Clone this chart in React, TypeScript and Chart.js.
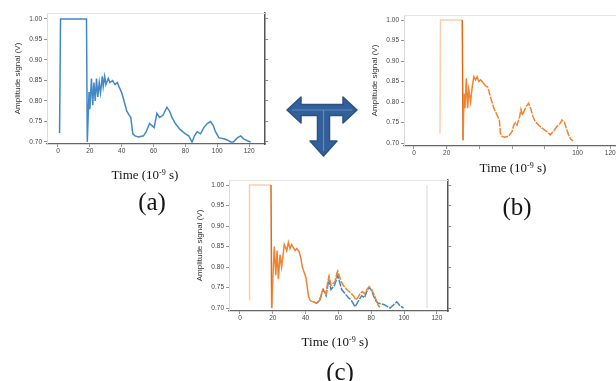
import React, { useEffect, useRef } from 'react';
import { Chart, registerables } from 'chart.js';

Chart.register(...registerables);

// ---------- data ----------
const xTickValues = [0, 20, 40, 60, 80, 100, 120];
const yTickValues = [0.7, 0.75, 0.8, 0.85, 0.9, 0.95, 1.0];
const yTitle = 'Amplitude signal (V)';

// (a) blue signal
const aTime = [1.0, 1.6, 17.9, 18.4, 19.5, 20.0, 21.0, 21.8, 22.6, 23.4, 24.2, 25.0, 25.9, 26.7, 27.8, 28.4, 29.3, 30.1, 31.6, 32.6, 34.3, 35.8, 37.3, 38.3, 40.0, 41.5, 43.2, 44.8, 45.7, 47.0, 48.4, 50.5, 53.7, 55.4, 57.5, 59.0, 60.4, 62.1, 63.8, 65.9, 68.4, 70.1, 71.6, 73.7, 76.8, 80.0, 82.1, 84.2, 85.7, 87.4, 89.5, 91.6, 93.7, 95.8, 97.5, 98.9, 101.1, 104.2, 106.3, 108.4, 110.1, 112.6, 114.7, 116.8, 118.9, 121.0];
const aAmp = [0.722, 1.0, 1.0, 0.7, 0.822, 0.78, 0.855, 0.79, 0.845, 0.8, 0.855, 0.81, 0.845, 0.82, 0.86, 0.835, 0.86, 0.84, 0.855, 0.845, 0.85, 0.84, 0.845, 0.835, 0.82, 0.8, 0.775, 0.765, 0.76, 0.72, 0.715, 0.712, 0.715, 0.725, 0.745, 0.74, 0.735, 0.77, 0.76, 0.765, 0.785, 0.775, 0.76, 0.745, 0.73, 0.72, 0.715, 0.7, 0.715, 0.725, 0.72, 0.735, 0.745, 0.75, 0.74, 0.725, 0.71, 0.708, 0.705, 0.7, 0.7, 0.71, 0.715, 0.707, 0.703, 0.7];

// (b) orange signal
const bTime = [15.9, 16.2, 29.5, 30.0, 30.6, 31.2, 32.0, 32.8, 33.5, 34.6, 35.6, 36.6, 37.6, 38.6, 39.6, 40.7, 42.3, 43.7, 45.1, 46.7, 48.8, 50.8, 52.2, 52.8, 53.9, 55.3, 57.9, 60.0, 61.0, 62.0, 63.0, 64.6, 65.4, 66.3, 67.1, 68.7, 70.1, 71.5, 72.8, 74.2, 76.2, 78.3, 81.3, 83.3, 85.0, 86.0, 87.4, 89.4, 90.4, 91.9, 93.1, 94.5, 95.9, 97.2];
const bAmp = [0.724, 1.0, 1.0, 0.707, 0.82, 0.785, 0.858, 0.785, 0.83, 0.8, 0.837, 0.862, 0.854, 0.862, 0.85, 0.854, 0.847, 0.84, 0.836, 0.813, 0.785, 0.768, 0.756, 0.724, 0.716, 0.714, 0.717, 0.728, 0.744, 0.75, 0.744, 0.764, 0.782, 0.768, 0.776, 0.79, 0.797, 0.782, 0.764, 0.752, 0.744, 0.736, 0.728, 0.72, 0.728, 0.733, 0.74, 0.748, 0.756, 0.752, 0.736, 0.72, 0.709, 0.705];

// (c) orange + blue signals
const cOrangeTime = [5.5, 5.8, 18.9, 19.3, 20.0, 20.9, 21.8, 22.6, 23.4, 24.4, 25.4, 27.0, 28.5, 29.5, 30.5, 31.5, 33.6, 34.6, 36.0, 37.2, 38.0, 39.3, 40.1, 40.7, 41.7, 42.7, 44.7, 46.8, 48.4, 49.4, 50.4, 51.5, 52.5, 53.3, 54.3, 55.5, 56.9, 58.0, 59.0, 59.6, 60.4, 61.6, 63.0, 65.1, 67.1, 69.1, 70.6, 71.8, 73.2, 74.6, 75.9, 77.3, 78.7, 80.3, 82.0, 83.4, 84.4, 85.4];
const cOrangeAmp = [0.72, 1.0, 1.0, 0.7, 0.77, 0.85, 0.78, 0.84, 0.77, 0.83, 0.8, 0.855, 0.84, 0.86, 0.845, 0.855, 0.84, 0.845, 0.838, 0.82, 0.8, 0.785, 0.775, 0.76, 0.73, 0.718, 0.715, 0.712, 0.718, 0.73, 0.745, 0.74, 0.735, 0.76, 0.778, 0.755, 0.76, 0.765, 0.785, 0.79, 0.78, 0.765, 0.755, 0.745, 0.738, 0.73, 0.72, 0.725, 0.735, 0.74, 0.735, 0.745, 0.752, 0.745, 0.73, 0.715, 0.705, 0.702];
const cBlueTime = [44.7, 46.8, 48.8, 49.8, 50.8, 52.5, 54.1, 55.5, 57.6, 59.6, 60.6, 62.0, 64.1, 66.1, 67.7, 70.2, 71.2, 72.6, 74.2, 75.9, 77.3, 78.7, 79.9, 81.4, 82.4, 84.0, 86.4, 88.1, 90.1, 91.5, 94.2, 95.6, 97.6, 99.7];
const cBlueAmp = [0.715, 0.712, 0.72, 0.735, 0.745, 0.73, 0.77, 0.745, 0.755, 0.78, 0.765, 0.745, 0.735, 0.725, 0.72, 0.703, 0.71, 0.72, 0.73, 0.725, 0.74, 0.75, 0.745, 0.73, 0.72, 0.712, 0.71, 0.708, 0.703, 0.7, 0.71, 0.715, 0.705, 0.7];
const cMarkerTime = [114, 114];
const cMarkerAmp = [0.7, 1.0];

// ---------- styles ----------
const BLUE = 'rgb(66,136,198)';
const ORANGE = 'rgb(240,132,48)';
const ORANGE_LIGHT = 'rgba(244,168,110,0.55)';
const ORANGE_DARK = 'rgb(222,108,22)';
const DASH = [7, 1.2];

const zip = (xs: number[], ys: number[]) => xs.map((x, i) => ({ x, y: ys[i] }));

const frameTop = {
  id: 'frameTop',
  afterDraw(chart: any) {
    const { ctx, chartArea } = chart;
    ctx.save();
    ctx.strokeStyle = '#e4e4e4';
    ctx.lineWidth = 1;
    ctx.beginPath();
    ctx.moveTo(chartArea.left, chartArea.top + 0.5);
    ctx.lineTo(chartArea.right, chartArea.top + 0.5);
    ctx.stroke();
    ctx.restore();
  },
};

type Cfg = {
  datasets: any[];
  xMin: number; xMax: number; yMin: number; yMax: number;
  padTop: number; yWidth: number; xHeight: number; rightWidth: number;
  titlePad: number; showRight: boolean; hideX?: number[];
};

function makeConfig(c: Cfg): any {
  const tickFont = { family: '"Liberation Sans", Arial, sans-serif', size: 6.5 };
  const setX = (s: any) => { s.ticks = xTickValues.map((v) => ({ value: v })); };
  const setY = (s: any) => { s.ticks = yTickValues.map((v) => ({ value: v })); };
  const scales: any = {
    x: {
      type: 'linear', min: c.xMin, max: c.xMax,
      afterFit: (s: any) => { s.height = c.xHeight; },
      afterBuildTicks: setX,
      ticks: {
        font: tickFont, color: '#444', padding: 0, maxRotation: 0, autoSkip: false,
        callback: (v: any) => (c.hideX && c.hideX.includes(Number(v)) ? '' : String(v)),
      },
      grid: { drawOnChartArea: false, drawTicks: true, tickLength: 3, color: '#777', lineWidth: 0.8 },
      border: { display: true, color: '#666', width: 1.3 },
    },
    y: {
      type: 'linear', position: 'left', min: c.yMin, max: c.yMax,
      afterFit: (s: any) => { s.width = c.yWidth; },
      afterBuildTicks: setY,
      ticks: { font: tickFont, color: '#444', padding: 2, callback: (v: any) => Number(v).toFixed(2) },
      grid: { drawOnChartArea: false, drawTicks: true, tickLength: 3, color: '#777', lineWidth: 0.8 },
      border: { display: true, color: '#dcdcdc', width: 1 },
      title: {
        display: true, text: yTitle, color: '#333',
        font: { family: '"Liberation Sans", Arial, sans-serif', size: 8 },
        padding: { top: c.titlePad, bottom: 0 },
      },
    },
  };
  if (c.showRight) {
    scales.y2 = {
      type: 'linear', position: 'right', min: c.yMin, max: c.yMax,
      afterFit: (s: any) => { s.width = c.rightWidth; },
      afterBuildTicks: setY,
      ticks: { display: false },
      grid: { drawOnChartArea: false, drawTicks: true, tickLength: 3, color: '#666', lineWidth: 0.8 },
      border: { display: true, color: '#555', width: 1.5 },
    };
  }
  return {
    type: 'line',
    data: { datasets: c.datasets },
    options: {
      responsive: false, animation: false, devicePixelRatio: 1,
      layout: { padding: { top: c.padTop, left: 0, right: 0, bottom: 0 } },
      plugins: { legend: { display: false }, tooltip: { enabled: false } },
      elements: { point: { radius: 0 }, line: { tension: 0 } },
      scales,
    },
    plugins: [frameTop],
  };
}

const pulseSegment = (light: string, dark: string, dash: number[]) => ({
  borderColor: (ctx: any) => (ctx.p0DataIndex < 2 ? light : ctx.p0DataIndex === 2 ? dark : undefined),
  borderDash: (ctx: any) => (ctx.p0.parsed.x > 42 ? dash : undefined),
});

function Panel({ left, top, width, height, build }: { left: number; top: number; width: number; height: number; build: () => any }) {
  const ref = useRef<HTMLCanvasElement>(null);
  useEffect(() => {
    const chart = new Chart(ref.current as HTMLCanvasElement, build());
    return () => chart.destroy();
  }, []);
  return (
    <canvas ref={ref} width={width} height={height}
      style={{ position: 'absolute', left, top, width, height }} />
  );
}

const serif = '"Liberation Serif", "Times New Roman", serif';

function Label({ cx, cy, size, children }: { cx: number; cy: number; size: number; children: any }) {
  return (
    <div style={{
      position: 'absolute', left: cx, top: cy, transform: 'translate(-50%,-50%)',
      fontFamily: serif, fontSize: size, lineHeight: 1, whiteSpace: 'nowrap', color: '#151515',
    }}>{children}</div>
  );
}

const TimeLabel = () => (
  <span>Time (10<span style={{ fontSize: '0.62em', position: 'relative', top: '-0.5em' }}>-9</span> s)</span>
);

function Arrow() {
  const pts = [
    [287, 110], [301, 97], [301, 104.5], [343, 104.5], [343, 97], [357, 110], [343, 123], [343, 115.5],
    [329.5, 115.5], [329.5, 141], [337, 141], [323.5, 156], [310, 141], [317.5, 141], [317.5, 115.5],
    [301, 115.5], [301, 123],
  ].map((p) => p.join(',')).join(' ');
  return (
    <svg width={616} height={381} style={{ position: 'absolute', left: 0, top: 0 }}>
      <polygon points={pts} fill="#33609a" stroke="#2a5283" strokeWidth={1.5} strokeLinejoin="round" />
      <polyline points="292,110 352,110" stroke="#5b8ac6" strokeWidth={1.2} fill="none" />
      <polyline points="323.5,110 323.5,151" stroke="#5b8ac6" strokeWidth={1.2} fill="none" />
    </svg>
  );
}

export default function App() {
  const buildA = () => makeConfig({
    datasets: [{ data: zip(aTime, aAmp), borderColor: BLUE, borderWidth: 1.5 }],
    xMin: -6.9, xMax: 130, yMin: 0.6951, yMax: 1.0146,
    padTop: 13, yWidth: 47, xHeight: 16, rightWidth: 15, titlePad: 13, showRight: true,
  });
  const buildB = () => makeConfig({
    datasets: [{ data: zip(bTime, bAmp), borderColor: ORANGE, borderWidth: 1.5, segment: pulseSegment(ORANGE_LIGHT, ORANGE_DARK, DASH) }],
    xMin: -6.1, xMax: 123.5, yMin: 0.6927, yMax: 1.0122,
    padTop: 15, yWidth: 44, xHeight: 14, rightWidth: 0, titlePad: 10, showRight: false, hideX: [40, 60, 80],
  });
  const buildC = () => makeConfig({
    datasets: [
      { data: zip(cOrangeTime, cOrangeAmp), borderColor: ORANGE, borderWidth: 1.5, segment: pulseSegment(ORANGE_LIGHT, ORANGE_DARK, DASH) },
      { data: zip(cBlueTime, cBlueAmp), borderColor: BLUE, borderWidth: 1.5, borderDash: DASH },
      { data: zip(cMarkerTime, cMarkerAmp), borderColor: 'rgba(190,190,190,0.6)', borderWidth: 1 },
    ],
    xMin: -6.7, xMax: 126.8, yMin: 0.6927, yMax: 1.0122,
    padTop: 10, yWidth: 49, xHeight: 16, rightWidth: 15, titlePad: 15, showRight: true,
  });
  return (
    <div style={{ position: 'absolute', left: 0, top: 0, width: 616, height: 381, overflow: 'hidden', background: '#fff' }}>
      <Panel left={0} top={0} width={280} height={160} build={buildA} />
      <Panel left={360} top={0} width={256} height={160} build={buildB} />
      <Panel left={180} top={170} width={283} height={157} build={buildC} />
      <Arrow />
      <Label cx={145} cy={175} size={13}><TimeLabel /></Label>
      <Label cx={152} cy={201} size={25}>(a)</Label>
      <Label cx={513} cy={168} size={13}><TimeLabel /></Label>
      <Label cx={517} cy={206} size={25}>(b)</Label>
      <Label cx={335} cy={342} size={13}><TimeLabel /></Label>
      <Label cx={340} cy={371} size={25}>(c)</Label>
    </div>
  );
}
